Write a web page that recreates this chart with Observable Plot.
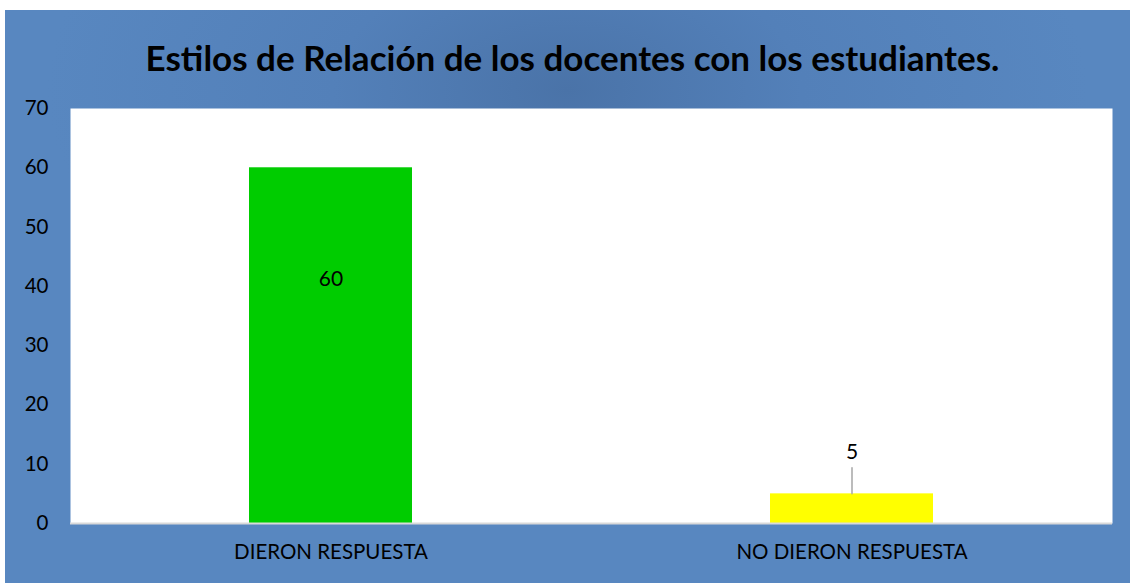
<!DOCTYPE html>
<html>
<head>
<meta charset="utf-8">
<script src="https://cdn.jsdelivr.net/npm/d3@7"></script>
<script src="https://cdn.jsdelivr.net/npm/@observablehq/plot@0.6"></script>
<style>
  html, body { margin: 0; padding: 0; background: #fff; }
  #box {
    position: absolute; left: 5px; top: 10px; width: 1125px; height: 573px;
    background: radial-gradient(ellipse 520px 300px at 50% 14%, #4a73a8 0%, #5380b9 45%, #5887c0 100%);
    font-family: Lato, "Open Sans", sans-serif;
    overflow: hidden;
  }
  #title {
    position: absolute; left: 5px; top: 27px; width: 1125px; text-align: center;
    font-weight: 700; font-size: 35px; color: #000; line-height: 40px;
  }
  #chart { position: absolute; left: 0; top: 80px; }
</style>
</head>
<body>
<div id="box">
  <div id="title">Estilos de Relación de los docentes con los estudiantes.</div>
  <div id="chart"></div>
</div>
<script>
const categories = ["DIERON RESPUESTA", "NO DIERON RESPUESTA"];
const values = [60, 5];
const barColors = ["#00cc00", "#ffff00"];
const yTicks = [0, 10, 20, 30, 40, 50, 60, 70];

const data = categories.map((c, i) => ({cat: c, value: values[i], color: barColors[i]}));

const chart = Plot.plot({
  width: 1125,
  height: 493,
  marginTop: 18,
  marginBottom: 60,
  marginLeft: 65,
  marginRight: 18,
  style: {background: "transparent", fontFamily: "Lato, 'Open Sans', sans-serif", fontSize: "20.5px", color: "#000"},
  x: {domain: categories, paddingInner: 0.687, paddingOuter: 0.3435, label: null, tickSize: 0, tickPadding: 21},
  y: {domain: [0, 70], ticks: yTicks, label: null, tickSize: 0, tickPadding: 22},
  marks: [
    Plot.frame({fill: "white", stroke: "none"}),
    Plot.barY(data, {x: "cat", y: "value", fill: "color"}),
    Plot.ruleY([0], {stroke: "#d9d9d9", strokeWidth: 2}),
    Plot.text(data.filter((d, i) => i === 0), {x: "cat", y: "value", text: d => String(d.value), dy: 111, fontSize: 21, fill: "#000"}),
    Plot.vector(data.filter((d, i) => i === 1), {x: "cat", y: "value", length: 26, r: 0, anchor: "start", rotate: 0, stroke: "#a6a6a6", strokeWidth: 1.5}),
    Plot.text(data.filter((d, i) => i === 1), {x: "cat", y: "value", text: d => String(d.value), dy: -42, fontSize: 21, fill: "#000"})
  ]
});
document.getElementById("chart").appendChild(chart);
</script>
</body>
</html>
